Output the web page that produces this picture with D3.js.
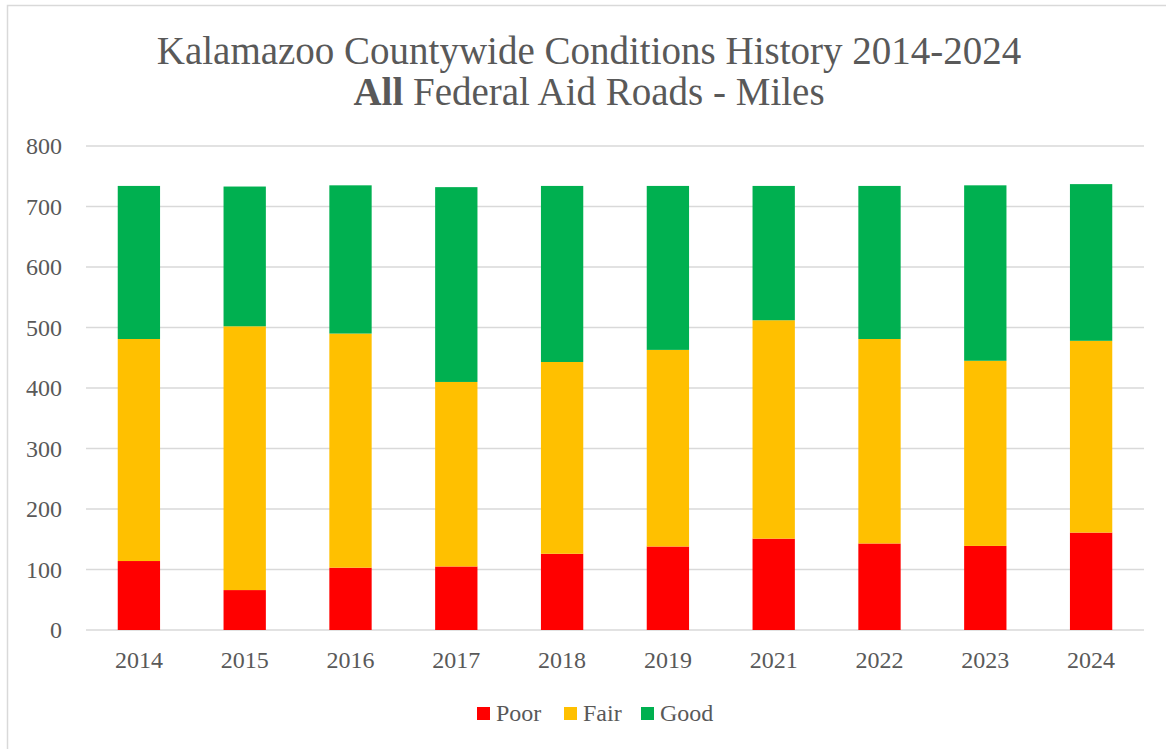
<!DOCTYPE html>
<html>
<head>
<meta charset="utf-8">
<script src="https://cdn.jsdelivr.net/npm/d3@7"></script>
<style>
  body { margin: 0; background: #fff; }
  svg { display: block; font-family: "Liberation Serif", "DejaVu Serif", serif; }
  .tick text { fill: #595959; font-size: 24px; font-family: "Liberation Serif", "DejaVu Serif", serif; }
  .title { fill: #595959; font-size: 39px; }
  .legend-label { fill: #595959; font-size: 24px; }
</style>
</head>
<body>
<div id="chart"></div>
<script>
// Kalamazoo countywide road conditions, miles by rating

const years = ["2014", "2015", "2016", "2017", "2018", "2019", "2021", "2022", "2023", "2024"];
const poor = [114, 66, 103, 105, 126, 138, 151, 143, 139, 161];
const fair = [367, 436, 387, 305, 317, 325, 361, 338, 306, 317];
const good = [253, 231, 245, 322, 291, 271, 222, 253, 290, 259];
const seriesNames = ["Poor", "Fair", "Good"];
const seriesColors = ["#FF0000", "#FFC000", "#00B050"];
const yTicks = [0, 100, 200, 300, 400, 500, 600, 700, 800];

const W = 1166, H = 749;
const margin = { top: 146, right: 22, bottom: 119, left: 86 };
const innerW = 1144 - margin.left;
const innerH = 630 - margin.top;

const svg = d3.select("#chart").append("svg")
    .attr("width", W)
    .attr("height", H);

// chart frame (only left/top edges fall inside the window)
svg.append("rect")
    .attr("x", 7.5).attr("y", 5.5)
    .attr("width", 1170).attr("height", 760)
    .attr("fill", "none")
    .attr("stroke", "#d9d9d9")
    .attr("stroke-width", 1.5);

// title
const title = svg.append("text")
    .attr("class", "title")
    .attr("text-anchor", "middle");
title.append("tspan")
    .attr("x", 589).attr("y", 64)
    .text("Kalamazoo Countywide Conditions History 2014-2024");
const line2 = title.append("tspan")
    .attr("x", 589).attr("y", 105);
line2.append("tspan").attr("font-weight", "bold").text("All");
line2.append("tspan").text(" Federal Aid Roads - Miles");

const g = svg.append("g")
    .attr("transform", `translate(${margin.left},${margin.top})`);

const x = d3.scaleBand()
    .domain(years)
    .range([0, innerW])
    .paddingInner(0.6)
    .paddingOuter(0.3);

const y = d3.scaleLinear()
    .domain([0, 800])
    .range([innerH, 0]);

// gridlines
g.append("g")
    .selectAll("line")
    .data(yTicks)
    .join("line")
    .attr("x1", 0)
    .attr("x2", innerW)
    .attr("y1", d => y(d))
    .attr("y2", d => y(d))
    .attr("stroke", "#d9d9d9")
    .attr("stroke-width", 1.5);

// stacked bars
const table = years.map((yr, i) => ({ year: yr, Poor: poor[i], Fair: fair[i], Good: good[i] }));
const stack = d3.stack().keys(seriesNames)(table);

g.selectAll(".series")
    .data(stack)
    .join("g")
    .attr("class", "series")
    .attr("fill", (d, i) => seriesColors[i])
    .selectAll("rect")
    .data(d => d)
    .join("rect")
    .attr("x", d => x(d.data.year))
    .attr("width", x.bandwidth())
    .attr("y", d => y(d[1]))
    .attr("height", d => y(d[0]) - y(d[1]));

// axes
const yAxis = g.append("g")
    .call(d3.axisLeft(y).tickValues(yTicks).tickSize(0).tickPadding(24))
    .attr("font-family", null)
    .attr("font-size", null);
yAxis.select(".domain").remove();
yAxis.selectAll(".tick text").attr("dy", "0.33em");

const xAxis = g.append("g")
    .attr("transform", `translate(0,${innerH})`)
    .call(d3.axisBottom(x).tickSize(0).tickPadding(21))
    .attr("font-family", null)
    .attr("font-size", null);
xAxis.select(".domain").remove();

// legend
const legendX = [477, 564, 641];
const legend = svg.append("g");
seriesNames.forEach((name, i) => {
    legend.append("rect")
        .attr("x", legendX[i]).attr("y", 707)
        .attr("width", 13).attr("height", 13)
        .attr("fill", seriesColors[i]);
    legend.append("text")
        .attr("class", "legend-label")
        .attr("x", legendX[i] + 19).attr("y", 721)
        .text(name);
});
</script>
</body>
</html>
